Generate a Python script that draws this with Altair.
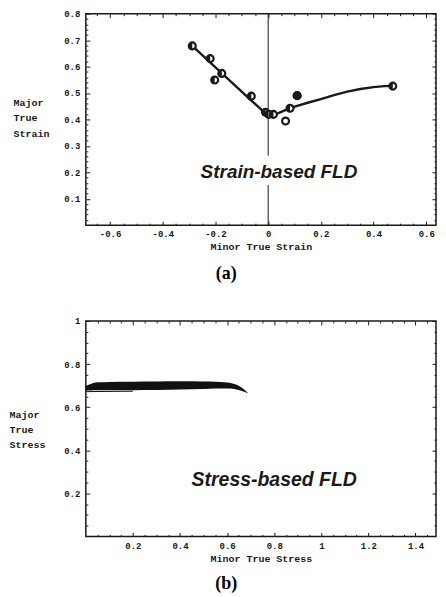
import altair as alt
import pandas as pd

# ---------------- Panel (a): strain-based FLD ----------------
pt_x = [-0.288, -0.220, -0.203, -0.176, -0.064, -0.010, 0.002, 0.020, 0.066, 0.083, 0.110, 0.473]
pt_y = [0.678, 0.630, 0.549, 0.574, 0.488, 0.427, 0.419, 0.419, 0.394, 0.442, 0.490, 0.526]
pt_kind = ["half", "half", "half", "half", "half", "half", "half", "half", "open", "half", "full", "half"]

curve_x = [-0.288, 0.000, 0.030, 0.085, 0.150, 0.200, 0.250, 0.300, 0.350, 0.400, 0.440, 0.473]
curve_y = [0.678, 0.413, 0.420, 0.444, 0.463, 0.477, 0.492, 0.505, 0.515, 0.522, 0.526, 0.527]

vline_y = [0.800, 0.152]
vline_y2 = [0.263, 0.000]

a_xmaj = [-0.6, -0.4, -0.2, 0.0, 0.2, 0.4, 0.6]
a_xmin = [-0.65, -0.55, -0.5, -0.45, -0.35, -0.3, -0.25, -0.15, -0.1, -0.05,
          0.05, 0.1, 0.15, 0.25, 0.3, 0.35, 0.45, 0.5, 0.55]
a_ymaj = [0.1, 0.2, 0.3, 0.4, 0.5, 0.6, 0.7, 0.8]
a_ymin = [0.02, 0.04, 0.06, 0.08, 0.12, 0.14, 0.16, 0.18, 0.22, 0.24, 0.26, 0.28,
          0.32, 0.34, 0.36, 0.38, 0.42, 0.44, 0.46, 0.48, 0.52, 0.54, 0.56, 0.58,
          0.62, 0.64, 0.66, 0.68, 0.72, 0.74, 0.76, 0.78]

label_a = ["Strain-based FLD"]
label_a_x = [0.041]
label_a_y = [0.178]
caption_a = ["(a)"]

# ---------------- Panel (b): stress-based FLD ----------------
band_x = [0.00, 0.02, 0.05, 0.10, 0.20, 0.30, 0.40, 0.50, 0.55, 0.60, 0.63, 0.66, 0.69]
band_hi = [0.698, 0.708, 0.715, 0.717, 0.718, 0.719, 0.720, 0.719, 0.718, 0.714, 0.707, 0.692, 0.663]
band_lo = [0.677, 0.677, 0.678, 0.678, 0.679, 0.680, 0.682, 0.684, 0.686, 0.686, 0.684, 0.676, 0.663]
streak_x = [0.00, 0.20]
streak_y = [0.672, 0.674]

b_xmaj = [0.2, 0.4, 0.6, 0.8, 1.0, 1.2, 1.4]
b_xmin = [0.05, 0.1, 0.15, 0.25, 0.3, 0.35, 0.45, 0.5, 0.55, 0.65, 0.7, 0.75,
          0.85, 0.9, 0.95, 1.05, 1.1, 1.15, 1.25, 1.3, 1.35, 1.45]
b_ymaj = [0.2, 0.4, 0.6, 0.8, 1.0]
b_ymin = [0.05, 0.1, 0.15, 0.25, 0.3, 0.35, 0.45, 0.5, 0.55, 0.65, 0.7, 0.75,
          0.85, 0.9, 0.95]

label_b = ["Stress-based FLD"]
label_b_x = [0.80]
label_b_y = [0.236]
caption_b = ["(b)"]

MONO = "Liberation Mono"
INK = "#1a1a1a"
W = 351

pts = pd.DataFrame({"x": pt_x, "y": pt_y, "kind": pt_kind})
curve = pd.DataFrame({"x": curve_x, "y": curve_y})
vline = pd.DataFrame({"x": [0.0, 0.0], "y": vline_y, "y2": vline_y2})
txt_a = pd.DataFrame({"x": label_a_x, "y": label_a_y, "t": label_a})
band = pd.DataFrame({"x": band_x, "hi": band_hi, "lo": band_lo})
streak = pd.DataFrame({"x": streak_x, "y": streak_y})
txt_b = pd.DataFrame({"x": label_b_x, "y": label_b_y, "t": label_b})


def tick_layers(df, xf, yf, xs, ys, xmaj, xmin, ymaj, ymin):
    layers = []
    for ox, oy in [("bottom", "left"), ("top", "right")]:
        for vx, vy, sz in [(xmaj, ymaj, 4), (xmin, ymin, 2)]:
            layers.append(
                alt.Chart(df).mark_point(opacity=0).encode(
                    x=alt.X(xf, scale=xs, axis=alt.Axis(
                        orient=ox, values=vx, labels=False, domain=False, grid=False,
                        ticks=True, tickSize=sz, offset=-sz, title=None,
                        minExtent=0, maxExtent=0,
                        tickColor=INK, tickWidth=1)),
                    y=alt.Y(yf, scale=ys, axis=alt.Axis(
                        orient=oy, values=vy, labels=False, domain=False, grid=False,
                        ticks=True, tickSize=sz, offset=-sz, title=None,
                        minExtent=0, maxExtent=0,
                        tickColor=INK, tickWidth=1)),
                )
            )
    return layers


# ---------- top panel ----------
xs_a = alt.Scale(domain=[-0.692, 0.637], nice=False, zero=False)
ys_a = alt.Scale(domain=[0, 0.8], nice=False, zero=False)

def xa(f="x:Q"):
    return alt.X(f, scale=xs_a, axis=None)

def ya(f="y:Q"):
    return alt.Y(f, scale=ys_a, axis=None)

x_lab_a = alt.X("x:Q", scale=xs_a, axis=alt.Axis(
    orient="bottom", values=a_xmaj, ticks=False, tickSize=0, domain=False, grid=False,
    labelPadding=4.5, title="Minor True Strain", titlePadding=3, labelFlush=False,
    labelExpr="datum.value < 0 ? '-' + format(-datum.value, '.1f') : (datum.value == 0 ? '0' : format(datum.value, '.1f'))"))
y_lab_a = alt.Y("y:Q", scale=ys_a, axis=alt.Axis(
    orient="left", values=a_ymaj, ticks=False, tickSize=0, domain=False, grid=False,
    labelPadding=6, format=".1f",
    title=["Major", "True", "Strain"], titleAngle=0, titleAlign="left",
    titleBaseline="middle", titleX=-73, titleY=89.2, titleLineHeight=15.3))

line_a = alt.Chart(curve).mark_line(color=INK, strokeWidth=2.4).encode(x=x_lab_a, y=y_lab_a, order="x:Q")
vrule = alt.Chart(vline).mark_rule(color=INK, strokeWidth=1).encode(x=xa(), y=ya(), y2="y2:Q")
ring = alt.Chart(pts).mark_point(shape="circle", filled=True, fill="white", stroke=INK,
                                 strokeWidth=2.2, size=48, opacity=1).encode(x=xa(), y=ya())
half = alt.Chart(pts).transform_filter(alt.datum.kind == "half").mark_point(
    shape="M0,-1A1,1,0,0,0,0,1Z", filled=True, color=INK, size=58, opacity=1).encode(x=xa(), y=ya())
full = alt.Chart(pts).transform_filter(alt.datum.kind == "full").mark_point(
    shape="circle", filled=True, color=INK, size=78, opacity=1).encode(x=xa(), y=ya())
text_a = alt.Chart(txt_a).mark_text(font="Liberation Sans", fontWeight="bold", fontStyle="italic",
                                    fontSize=19, align="center", baseline="alphabetic", color=INK).encode(
    x=xa(), y=ya(), text="t:N")
cap_a = alt.Chart(pd.DataFrame({"t": caption_a})).mark_text(
    font="Liberation Serif", fontWeight="bold", fontSize=18, align="center", baseline="middle",
    color="black").encode(x=alt.value(140.7), y=alt.value(261), text="t:N")

top = alt.layer(
    *tick_layers(curve, "x:Q", "y:Q", xs_a, ys_a, a_xmaj, a_xmin, a_ymaj, a_ymin),
    line_a, vrule, ring, half, full, text_a, cap_a,
).properties(width=W, height=212)

# ---------- bottom panel ----------
xs_b = alt.Scale(domain=[0, 1.487], nice=False, zero=False)
ys_b = alt.Scale(domain=[0, 1.0], nice=False, zero=False)

x_lab_b = alt.X("x:Q", scale=xs_b, axis=alt.Axis(
    orient="bottom", values=b_xmaj, ticks=False, tickSize=0, domain=False, grid=False,
    labelPadding=4.8, format="~g", title="Minor True Stress", titlePadding=3.5, labelFlush=False))
y_lab_b = alt.Y("hi:Q", scale=ys_b, axis=alt.Axis(
    orient="left", values=b_ymaj, ticks=False, tickSize=0, domain=False, grid=False,
    labelPadding=6, format="~g",
    title=["Major", "True", "Stress"], titleAngle=0, titleAlign="left",
    titleBaseline="middle", titleX=-77, titleY=93.3, titleLineHeight=15.5))

area_b = alt.Chart(band).mark_area(color="#111", opacity=1, interpolate="monotone").encode(
    x=x_lab_b, y=y_lab_b, y2="lo:Q")
streak_b = alt.Chart(streak).mark_line(color="#111", strokeWidth=1).encode(
    x=alt.X("x:Q", scale=xs_b, axis=None), y=alt.Y("y:Q", scale=ys_b, axis=None))
text_b = alt.Chart(txt_b).mark_text(font="Liberation Sans", fontWeight="bold", fontStyle="italic",
                                    fontSize=19.5, align="center", baseline="alphabetic", color=INK).encode(
    x=alt.X("x:Q", scale=xs_b, axis=None), y=alt.Y("y:Q", scale=ys_b, axis=None), text="t:N")
cap_b = alt.Chart(pd.DataFrame({"t": caption_b})).mark_text(
    font="Liberation Serif", fontWeight="bold", fontSize=18, align="center", baseline="middle",
    color="black").encode(x=alt.value(140.7), y=alt.value(264), text="t:N")

bottom = alt.layer(
    *tick_layers(streak, "x:Q", "y:Q", xs_b, ys_b, b_xmaj, b_xmin, b_ymaj, b_ymin),
    area_b, streak_b, text_b, cap_b,
).properties(width=W, height=216)

chart = alt.vconcat(top, bottom, spacing=32).properties(
    padding={"left": 0, "top": 0, "right": 0, "bottom": 0}
).configure_view(
    stroke=INK, strokeWidth=1.5
).configure_axis(
    labelFont=MONO, labelFontWeight="bold", labelFontSize=9, labelColor=INK,
    titleFont=MONO, titleFontWeight="bold", titleFontSize=10, titleColor=INK,
)

chart.save("out.html", embed_options={"renderer": "svg", "actions": False})
